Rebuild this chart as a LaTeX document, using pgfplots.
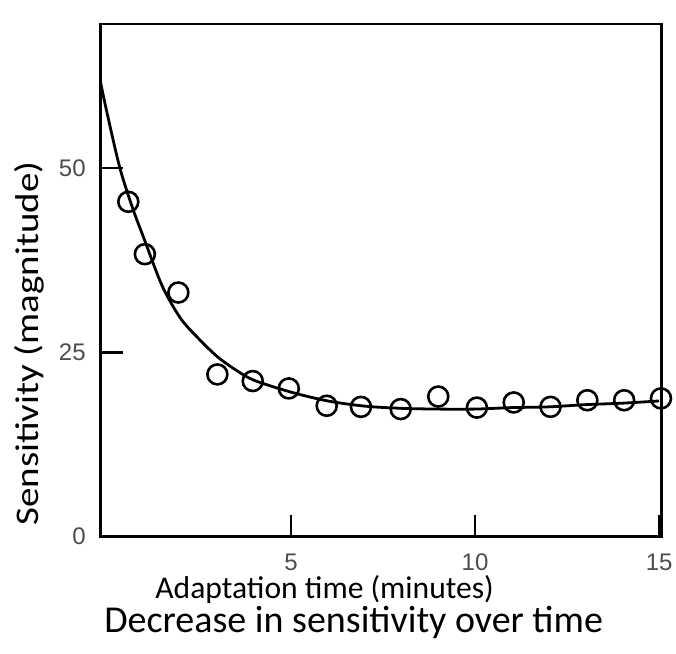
\documentclass[border=0pt]{standalone}
\usepackage{pgfplots}
\usepackage{fontspec}
\pgfplotsset{compat=1.18}
\setmainfont{Carlito}
\newfontfamily\helv{Liberation Sans}

\begin{document}
\begin{tikzpicture}
    % page size: 676x654 px at 0.5pt per px, axis box at (0,0)
    \useasboundingbox (-50.35pt,-58.65pt) rectangle (287.65pt,268.35pt);
    \begin{axis}[
        scale only axis,
        width=280.5pt,
        height=256.35pt,
        xmin=-0.17, xmax=15.07,
        ymin=0, ymax=69.5,
        xtick={5,10,15},
        ytick={0,25,50},
        xtick pos=bottom,
        ytick pos=left,
        tick align=inside,
        major tick length=11pt,
        every tick/.style={black, line width=1.3pt},
        axis line style={line width=1.4pt},
        /pgf/number format/assume math mode=true,
        tick label style={font=\helv\fontsize{12}{14}\selectfont, text=black!70},
        xticklabel style={yshift=-5pt},
        yticklabel style={xshift=-4pt},
        xlabel={Adaptation time (minutes)},
        ylabel={\scalebox{1.18}[1]{Sensitivity (magnitude)}},
        xlabel style={font=\fontsize{15.8}{19}\selectfont, inner sep=0pt, at={(axis description cs:0.0968,-0.1215)}, anchor=base west},
        ylabel style={font=\fontsize{16.5}{20}\selectfont, inner sep=0pt, at={(axis description cs:-0.1112,0.0209)}, anchor=base west},
        title={Decrease in sensitivity over time},
        title style={font=\fontsize{19}{23}\selectfont, inner sep=0pt, at={(axis description cs:0.0058,-0.2112)}, anchor=base west, yshift=0pt},
        clip=false,
    ]

    % fitted curve
    \addplot[black, line width=1.4pt, smooth, tension=0.5] coordinates {
        (-0.17,61.5) (0,57.5) (0.35,50) (0.7,44.5) (1,40.5) (1.5,34) (2,29.6)
        (2.5,26.8) (3,24.4) (3.5,22.6) (4,21.2) (5,19.6) (6,18.4) (7,17.7)
        (8,17.4) (9,17.3) (10,17.3) (11,17.5) (12,17.6) (13,17.9) (14,18.1) (15,18.4)
    };

    % measured points
    \addplot[only marks, mark=o, mark size=5pt, mark options={line width=1.3pt, fill=white, draw=black}] coordinates {
        (0.58,45.4) (1.03,38.3) (1.94,33.1) (3.0,22.0) (3.96,21.1) (4.94,20.1)
        (5.97,17.75) (6.9,17.6) (7.98,17.3) (9.0,19.0) (10.05,17.5) (11.05,18.2)
        (12.05,17.6) (13.05,18.5) (14.05,18.5) (15.05,18.75)
    };

    \end{axis}
\end{tikzpicture}
\end{document}
